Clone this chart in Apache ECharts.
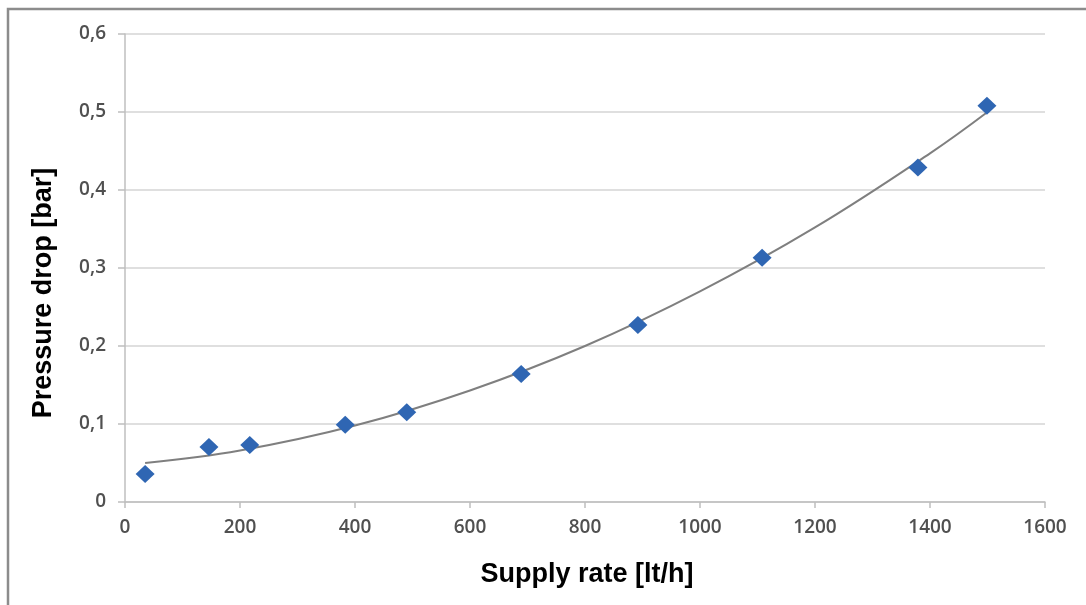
<!DOCTYPE html>
<html>
<head>
<meta charset="utf-8">
<script src="https://cdn.jsdelivr.net/npm/echarts@6/dist/echarts.min.js"></script>
<style>
html,body{margin:0;padding:0;background:#fff;}
#chart{width:1086px;height:605px;}
</style>
</head>
<body>
<div id="chart"></div>
<script>
// Measured points: supply rate [lt/h] and pressure drop [bar]
var supplyRate = [35, 146, 217, 383, 490, 689, 892, 1108, 1379, 1499];
var pressureDrop = [0.036, 0.0705, 0.073, 0.099, 0.115, 0.164, 0.227, 0.313, 0.429, 0.508];
// Trend line
var trendX = [35, 200, 400, 600, 800, 1000, 1200, 1400, 1500];
var trendY = [0.050, 0.066, 0.098, 0.143, 0.200, 0.270, 0.352, 0.447, 0.500];

var xTitle = 'Supply rate [lt/h]';
var yTitle = 'Pressure drop [bar]';

var chart = echarts.init(document.getElementById('chart'));
var labelStyle = {color:'#505050', fontFamily:'Open Sans', fontSize:19, fontWeight:600};
chart.setOption({
  animation:false,
  backgroundColor:'#fff',
  grid:{left:125, right:41, top:34, bottom:103},
  xAxis:{
    type:'value', min:0, max:1600, interval:200,
    axisLine:{show:true, lineStyle:{color:'#bfbfbf', width:1.5}},
    axisTick:{show:true, length:6, lineStyle:{color:'#bfbfbf', width:1.5}},
    axisLabel:Object.assign({margin:16, formatter:function(v){return String(v);}}, labelStyle),
    splitLine:{show:false}
  },
  yAxis:{
    type:'value', min:0, max:0.6, interval:0.1,
    axisLine:{show:true, lineStyle:{color:'#bfbfbf', width:1.5}},
    axisTick:{show:true, length:7, lineStyle:{color:'#bfbfbf', width:1.5}},
    axisLabel:Object.assign({margin:19, formatter:function(v){return String(+v.toFixed(1)).replace('.',',');}}, labelStyle),
    splitLine:{show:true, lineStyle:{color:'#d4d4d4', width:1.5}}
  },
  series:[
    {
      type:'line', smooth:0.4, symbol:'none',
      data:trendX.map(function(x,i){return [x, trendY[i]];}),
      lineStyle:{color:'#7f7f7f', width:2}, z:2
    },
    {
      type:'scatter', symbol:'diamond', symbolSize:[19,18],
      data:supplyRate.map(function(x,i){return [x, pressureDrop[i]];}),
      itemStyle:{color:'#2f66b3', opacity:1}, z:3
    }
  ],
  graphic:[
    {type:'rect', shape:{x:8, y:9, width:1200, height:800}, style:{fill:'none', stroke:'#8c8c8c', lineWidth:2.5}, silent:true},
    {type:'text', x:44, y:293, rotation:Math.PI/2, style:{text:yTitle, font:'bold 27px "Liberation Sans"', fill:'#000', align:'center', verticalAlign:'middle'}},
    {type:'text', x:587, y:575, style:{text:xTitle, font:'bold 27px "Liberation Sans"', fill:'#000', align:'center', verticalAlign:'middle'}}
  ]
});
</script>
</body>
</html>
